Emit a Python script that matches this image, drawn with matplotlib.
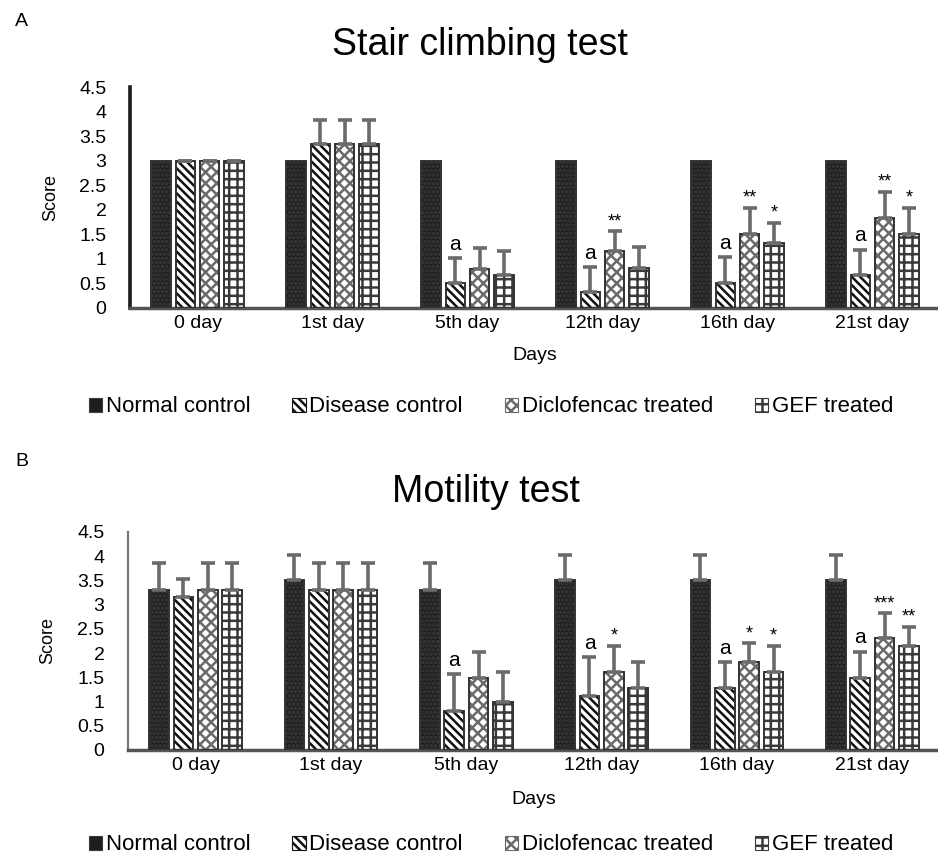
import matplotlib
matplotlib.use("Agg")
import matplotlib.pyplot as plt
import numpy as np
from matplotlib.patches import Patch

plt.rcParams['font.family'] = ['Liberation Sans', 'DejaVu Sans']
plt.rcParams['hatch.linewidth'] = 1.8

days = ["0 day", "1st day", "5th day", "12th day", "16th day", "21st day"]
groups = ["Normal control", "Disease control", "Diclofencac treated", "GEF treated"]

# Panel A: Stair climbing test
stair_normal = [3.0, 3.0, 3.0, 3.0, 3.0, 3.0]
stair_disease = [3.0, 3.33, 0.5, 0.33, 0.5, 0.67]
stair_diclo = [3.0, 3.33, 0.8, 1.17, 1.5, 1.83]
stair_gef = [3.0, 3.33, 0.67, 0.82, 1.33, 1.5]
stair_normal_err = [0, 0, 0, 0, 0, 0]
stair_disease_err = [0, 0.5, 0.52, 0.5, 0.53, 0.52]
stair_diclo_err = [0, 0.5, 0.43, 0.39, 0.53, 0.54]
stair_gef_err = [0, 0.5, 0.5, 0.43, 0.4, 0.53]
stair_marks_disease = ["", "", "a", "a", "a", "a"]
stair_marks_diclo = ["", "", "", "**", "**", "**"]
stair_marks_gef = ["", "", "", "", "*", "*"]

# Panel B: Motility test
mot_normal = [3.3, 3.5, 3.3, 3.5, 3.5, 3.5]
mot_disease = [3.16, 3.3, 0.81, 1.12, 1.29, 1.48]
mot_diclo = [3.3, 3.3, 1.48, 1.61, 1.81, 2.32]
mot_gef = [3.3, 3.3, 1.0, 1.29, 1.61, 2.15]
mot_normal_err = [0.55, 0.53, 0.55, 0.53, 0.53, 0.53]
mot_disease_err = [0.38, 0.55, 0.76, 0.8, 0.53, 0.55]
mot_diclo_err = [0.55, 0.55, 0.55, 0.54, 0.39, 0.5]
mot_gef_err = [0.55, 0.55, 0.61, 0.52, 0.54, 0.39]
mot_marks_disease = ["", "", "a", "a", "a", "a"]
mot_marks_diclo = ["", "", "", "*", "*", "***"]
mot_marks_gef = ["", "", "", "", "*", "**"]

yticks = [0, 0.5, 1, 1.5, 2, 2.5, 3, 3.5, 4, 4.5]
ytick_labels = ["0", "0.5", "1", "1.5", "2", "2.5", "3", "3.5", "4", "4.5"]

W, H = 938, 858
fig = plt.figure(figsize=(W / 100, H / 100), dpi=100)

styles = [
    dict(face="#1e1e1e", hatch="....", hcol="#3c3c3c"),
    dict(face="white", hatch="\\\\\\\\", hcol="#111111"),
    dict(face="white", hatch="xxx", hcol="#6a6a6a"),
    dict(face="white", hatch="++", hcol="#3a3a3a"),
]


def px_axes(left, top, right, bottom):
    return fig.add_axes([left / W, 1 - bottom / H, (right - left) / W, (bottom - top) / H])


def draw_panel(ax, series, errs, marks, ylab_x, xlab_y, left_lw, left_col):
    x = np.arange(len(days))
    pitch = 0.18
    width = 0.145
    for i, (vals, err, st) in enumerate(zip(series, errs, styles)):
        pos = x + (i - 1.5) * pitch
        ax.bar(pos, vals, width, color=st["face"], edgecolor=st["hcol"],
               hatch=st["hatch"], linewidth=0, zorder=2)
        ax.bar(pos, vals, width, fill=False, edgecolor="#333333", linewidth=1.4, zorder=3)
        if any(e > 0 for e in err):
            ax.errorbar(pos, vals, yerr=[np.zeros(len(err)), err], fmt="none",
                        ecolor="#6b6b6b", elinewidth=2.6, capsize=5, capthick=2.6, zorder=4)
        if marks[i] is not None:
            for p, v, e, m in zip(pos, vals, err, marks[i]):
                if m:
                    fs = 15 if m == "a" else 13
                    off = 3 if m == "a" else 1
                    ax.annotate(m, (p, v + e), xytext=(0, off), textcoords="offset points",
                                ha="center", va="bottom", fontsize=fs, zorder=5)
    ax.set_xlim(-0.5, len(days) - 0.5)
    ax.set_ylim(0, 4.5)
    ax.set_xticks(x)
    ax.set_xticklabels(days, fontsize=14)
    ax.set_yticks(yticks)
    ax.set_yticklabels(ytick_labels, fontsize=14)
    ax.tick_params(axis="y", length=0, pad=17)
    ax.tick_params(axis="x", length=0, pad=5)
    for s in ["top", "right"]:
        ax.spines[s].set_visible(False)
    ax.spines["left"].set_linewidth(left_lw)
    ax.spines["left"].set_color(left_col)
    ax.spines["bottom"].set_linewidth(2.5)
    ax.spines["bottom"].set_color("#555555")
    ax.set_ylabel("Score", fontsize=13)
    ax.yaxis.set_label_coords(ylab_x, 0.5)
    ax.set_xlabel("Days", fontsize=14)
    ax.xaxis.set_label_coords(0.5, xlab_y)


axA = px_axes(130, 87, 940, 308)
draw_panel(axA,
           [stair_normal, stair_disease, stair_diclo, stair_gef],
           [stair_normal_err, stair_disease_err, stair_diclo_err, stair_gef_err],
           [None, stair_marks_disease, stair_marks_diclo, stair_marks_gef],
           -0.088, -0.175, 2.6, "#1a1a1a")

axB = px_axes(128, 532, 940, 750)
draw_panel(axB,
           [mot_normal, mot_disease, mot_diclo, mot_gef],
           [mot_normal_err, mot_disease_err, mot_diclo_err, mot_gef_err],
           [None, mot_marks_disease, mot_marks_diclo, mot_marks_gef],
           -0.088, -0.19, 1.6, "#777777")

fig.text(15 / W, 1 - 22 / H, "A", fontsize=14, ha="left", va="center")
fig.text(15 / W, 1 - 462 / H, "B", fontsize=14, ha="left", va="center")
fig.text(480 / W, 1 - 45 / H, "Stair climbing test", fontsize=27, ha="center", va="center")
fig.text(486 / W, 1 - 492 / H, "Motility test", fontsize=27, ha="center", va="center")

handles = [Patch(facecolor=st["face"], edgecolor=st["hcol"], hatch=st["hatch"] if i else None,
                 linewidth=0.8) for i, st in enumerate(styles)]
for yc in (407, 845):
    fig.legend(handles, groups, loc="center", bbox_to_anchor=(491 / W, 1 - yc / H),
               ncol=4, frameon=False, fontsize=16, handlelength=0.6, handleheight=0.6,
               handletextpad=0.15, columnspacing=1.9, borderaxespad=0)

fig.savefig("out.png", dpi=100)
